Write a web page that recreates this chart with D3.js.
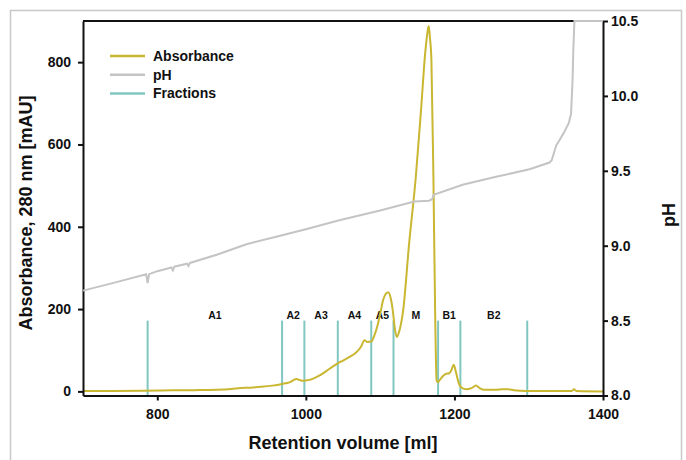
<!DOCTYPE html>
<html>
<head>
<meta charset="utf-8">
<script src="https://cdn.jsdelivr.net/npm/d3@7"></script>
<style>
  body { margin: 0; background: #fff; }
  text { font-family: "Liberation Sans", Arial, sans-serif; font-weight: bold; fill: #111; }
</style>
</head>
<body>
<script>
// absorbance trace (mAU) vs retention volume (ml)
const absVolume = [700, 740, 780, 820, 850, 880, 900, 912, 925, 940, 955, 968, 978, 987, 995, 1005, 1018, 1032, 1043, 1050, 1059, 1068, 1074, 1079, 1083, 1088, 1092, 1097, 1101, 1104, 1108, 1111, 1114, 1117, 1120, 1122.5, 1126, 1131, 1139, 1148, 1155, 1161, 1163.5, 1165.4, 1167, 1169, 1171.7, 1174, 1176, 1178, 1180, 1185, 1189, 1193, 1196, 1199, 1202, 1205, 1209, 1216, 1223, 1229, 1234, 1240, 1255, 1265, 1272, 1280, 1296, 1330, 1358, 1361, 1364, 1400];
const absValue  = [1, 1, 1.5, 2.5, 3, 4, 6, 8, 9, 11, 14, 18, 22, 30, 26, 28, 38, 55, 68, 75, 84, 95, 108, 124, 120, 121, 135, 164, 197, 222, 238, 241, 228, 197, 150, 132, 148, 197, 359, 521, 683, 829, 870, 888, 860, 805, 521, 197, 26, 22, 27, 38, 43, 44, 52, 65, 47, 25, 10, 5, 8, 14, 8, 4, 4, 5, 5, 3, 1, 1, 1, 5, 1, 0];

// pH trace
const phVolume = [700, 740, 785, 787, 789, 800, 819, 821, 823, 840, 842, 844, 880, 920, 960, 1000, 1045, 1100, 1146, 1166, 1170, 1172, 1211, 1256, 1301, 1328, 1331, 1334, 1337, 1341, 1348, 1354, 1357, 1359, 1360, 1361.5, 1400];
const phValue  = [8.70, 8.75, 8.81, 8.75, 8.81, 8.83, 8.855, 8.835, 8.86, 8.88, 8.865, 8.885, 8.94, 9.01, 9.06, 9.11, 9.17, 9.235, 9.295, 9.30, 9.31, 9.34, 9.407, 9.46, 9.51, 9.555, 9.57, 9.62, 9.67, 9.70, 9.76, 9.82, 9.88, 10.1, 10.3, 10.5, 10.5];

// fraction boundaries and names
const fractionCuts  = [787, 968, 998, 1043, 1088, 1118, 1178, 1208, 1298];
const fractionNames = ["A1", "A2", "A3", "A4", "A5", "M", "B1", "B2"];
const fractionTopPh = 8.5;

const xTicks   = [800, 1000, 1200, 1400];
const absTicks = [0, 200, 400, 600, 800];
const phTicks  = [8.0, 8.5, 9.0, 9.5, 10.0, 10.5];

const legendNames = ["Absorbance", "pH", "Fractions"];

const colAbs = "#c9b631", colPh = "#c4c4c4", colFrac = "#80c7c1";

var width = 686, height = 460;
var plotLeft = 83, plotRight = 603, plotTop = 21, plotBottom = 395.5;

var svg = d3.select("body").append("svg")
    .attr("width", width)
    .attr("height", height);

// outer light frame
svg.append("rect")
    .attr("x", 10.5).attr("y", 10.5)
    .attr("width", 671).attr("height", 470)
    .attr("fill", "none")
    .attr("stroke", "#c8c8c8")
    .attr("stroke-width", 1.5);

var x = d3.scaleLinear().domain([700, 1400]).range([plotLeft, plotRight]);
var yAbs = d3.scaleLinear().domain([-10, 900]).range([plotBottom, plotTop]);
var yPh = d3.scaleLinear().domain([8, 10.5]).range([plotBottom, plotTop]);

// fraction markers
svg.append("g").selectAll("line")
    .data(fractionCuts)
    .enter().append("line")
    .attr("x1", d => x(d)).attr("x2", d => x(d))
    .attr("y1", yPh(8)).attr("y2", yPh(fractionTopPh))
    .attr("stroke", colFrac)
    .attr("stroke-width", 2);

svg.append("g").selectAll("text")
    .data(fractionNames)
    .enter().append("text")
    .attr("x", (d, i) => x((fractionCuts[i] + fractionCuts[i + 1]) / 2))
    .attr("y", yPh(fractionTopPh) - 2)
    .attr("text-anchor", "middle")
    .style("font-size", "10.5px")
    .text(d => d);

// absorbance
var absLine = d3.line()
    .x(d => x(d[0]))
    .y(d => yAbs(d[1]))
    .curve(d3.curveMonotoneX);

svg.append("path")
    .datum(absVolume.map((v, i) => [v, absValue[i]]))
    .attr("d", absLine)
    .attr("fill", "none")
    .attr("stroke", colAbs)
    .attr("stroke-width", 2);

// axes
var xAxis = d3.axisBottom(x).tickValues(xTicks).tickSize(5).tickSizeOuter(0).tickPadding(9)
    .tickFormat(d3.format("d"));
var yAxis = d3.axisLeft(yAbs).tickValues(absTicks).tickSize(5).tickSizeOuter(0).tickPadding(7);
var yRightAxis = d3.axisRight(yPh).tickValues(phTicks).tickSize(5).tickSizeOuter(0).tickPadding(3)
    .tickFormat(d3.format(".1f"));

function styleAxis(g, size) {
    g.selectAll("path, line").attr("stroke", "#111").attr("stroke-width", 2);
    g.selectAll("text").style("font-size", size).attr("fill", "#111");
}

svg.append("g")
    .attr("transform", "translate(0," + plotBottom + ")")
    .call(xAxis)
    .call(g => styleAxis(g, "14px"));

svg.append("g")
    .attr("transform", "translate(" + plotLeft + ",0)")
    .call(yAxis)
    .call(g => styleAxis(g, "14px"));

svg.append("g")
    .attr("transform", "translate(" + plotRight + ",0)")
    .call(yRightAxis)
    .call(g => styleAxis(g, "14px"));

svg.append("line")
    .attr("x1", plotLeft).attr("x2", plotRight)
    .attr("y1", plotTop).attr("y2", plotTop)
    .attr("stroke", "#111")
    .attr("stroke-width", 2);

// pH on top of the frame
var phLine = d3.line()
    .x(d => x(d[0]))
    .y(d => yPh(d[1]));

svg.append("path")
    .datum(phVolume.map((v, i) => [v, phValue[i]]))
    .attr("d", phLine)
    .attr("fill", "none")
    .attr("stroke", colPh)
    .attr("stroke-width", 2);

// axis titles
svg.append("text")
    .attr("x", (plotLeft + plotRight) / 2)
    .attr("y", 449)
    .attr("text-anchor", "middle")
    .style("font-size", "18px")
    .text("Retention volume [ml]");

svg.append("text")
    .attr("transform", "translate(32,213) rotate(-90)")
    .attr("text-anchor", "middle")
    .style("font-size", "18px")
    .text("Absorbance, 280 nm [mAU]");

svg.append("text")
    .attr("transform", "translate(675,215) rotate(-90)")
    .attr("text-anchor", "middle")
    .style("font-size", "18px")
    .text("pH");

// legend
var legend = svg.append("g").attr("transform", "translate(110,56)");
var legendColors = [colAbs, colPh, colFrac];

legend.selectAll("line")
    .data(legendNames)
    .enter().append("line")
    .attr("x1", 0).attr("x2", 35)
    .attr("y1", (d, i) => i * 18.7).attr("y2", (d, i) => i * 18.7)
    .attr("stroke", (d, i) => legendColors[i])
    .attr("stroke-width", 2.5);

legend.selectAll("text")
    .data(legendNames)
    .enter().append("text")
    .attr("x", 43)
    .attr("y", (d, i) => i * 18.7)
    .attr("dy", "0.35em")
    .style("font-size", "14px")
    .text(d => d);
</script>
</body>
</html>
